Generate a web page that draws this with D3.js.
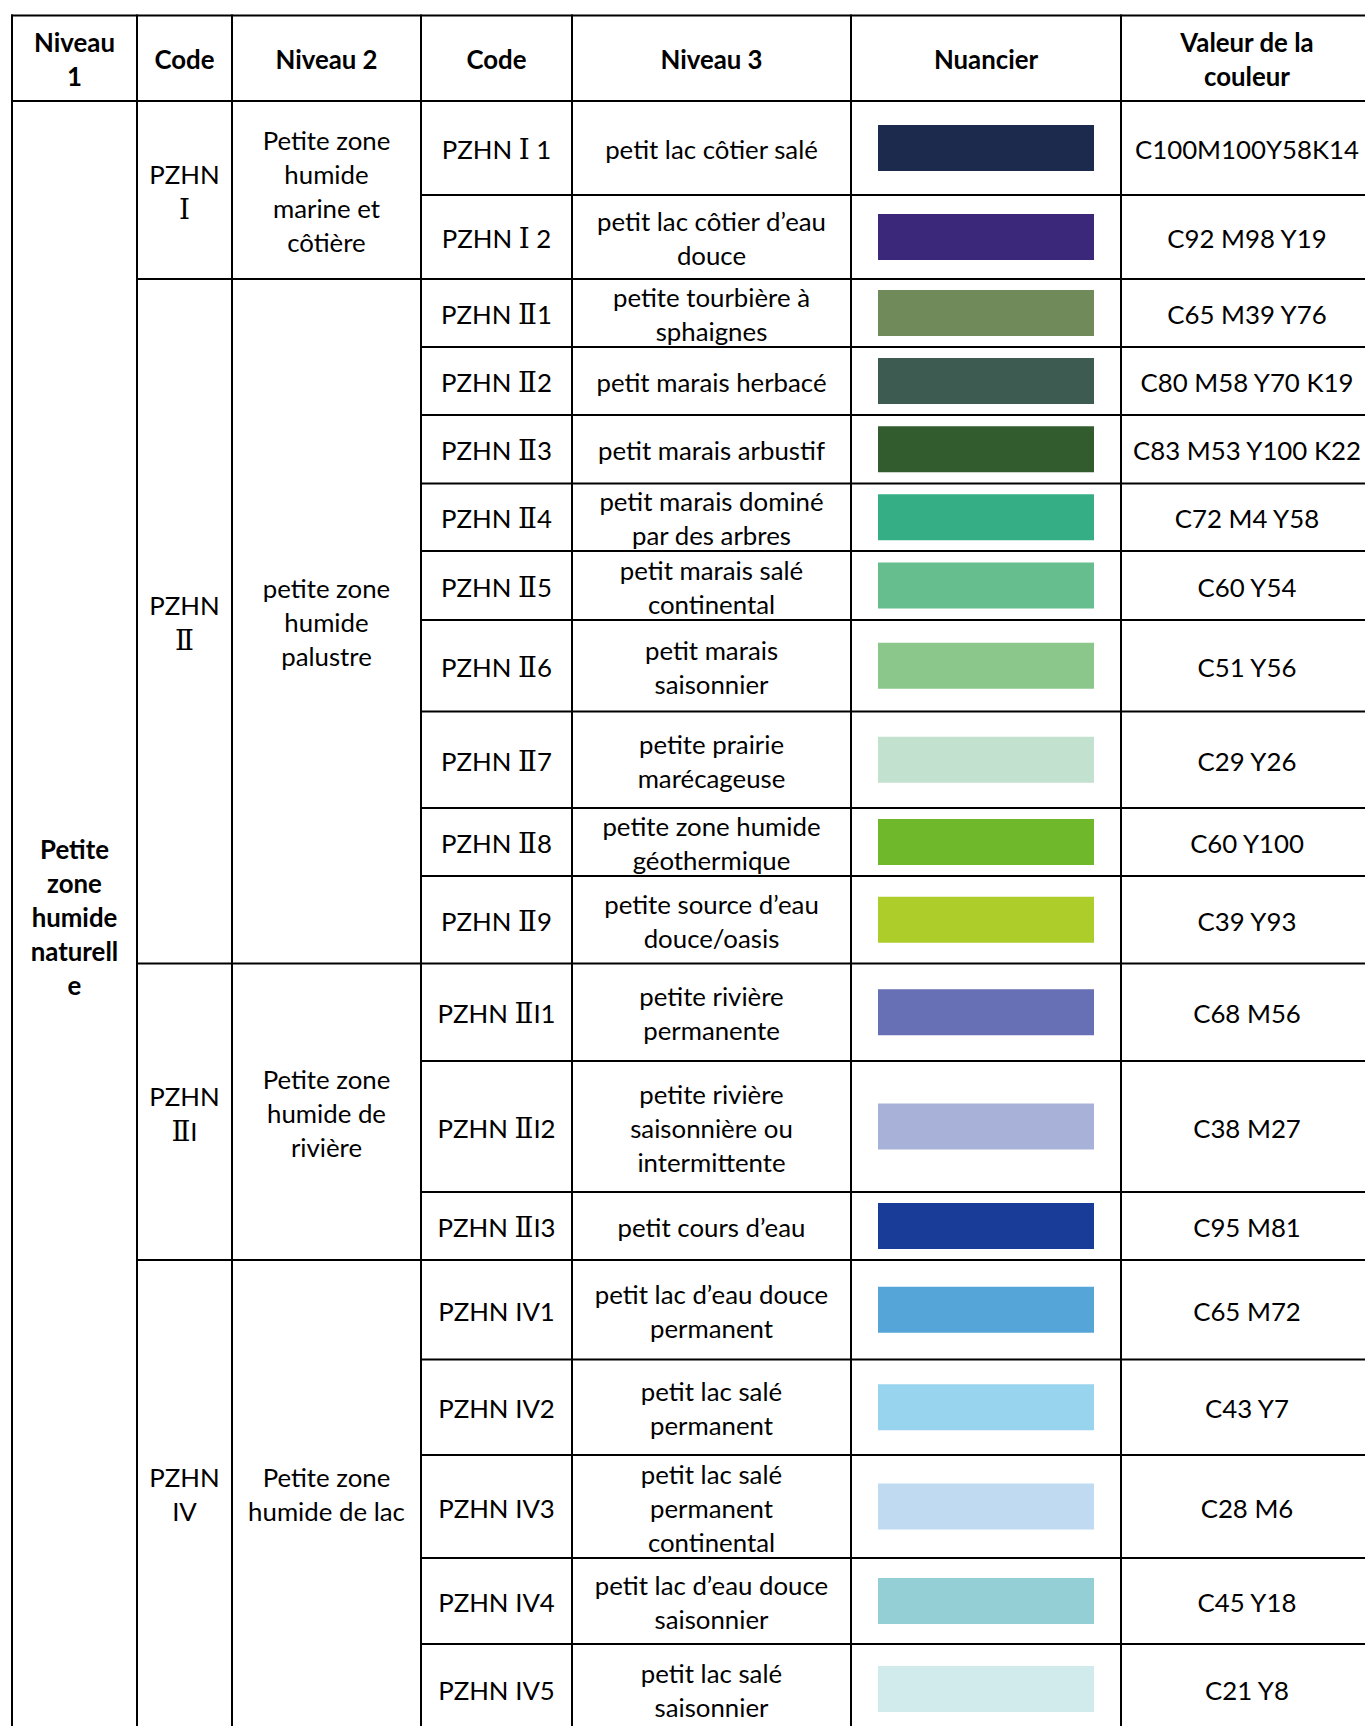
<!DOCTYPE html>
<html>
<head>
<meta charset="utf-8">
<script src="https://cdn.jsdelivr.net/npm/d3@7"></script>
<style>
  body { margin: 0; background: #fff; }
  text { font-family: Lato, "DejaVu Sans", sans-serif; fill: #000; }
</style>
</head>
<body>
<script>
// Table content
var headers = ["Niveau\n1", "Code", "Niveau 2", "Code", "Niveau 3", "Nuancier", "Valeur de la\ncouleur"];
var niveau1 = "Petite\nzone\nhumide\nnaturell\ne";

var groupCodes = ["PZHN\nⅠ", "PZHN\nⅡ", "PZHN\nⅡI", "PZHN\nIV"];
var groupNames = [
  "Petite zone\nhumide\nmarine et\ncôtière",
  "petite zone\nhumide\npalustre",
  "Petite zone\nhumide de\nrivière",
  "Petite zone\nhumide de lac"
];
var groupSizes = [2, 9, 3, 5];

var codes = [
  "PZHN Ⅰ 1", "PZHN Ⅰ 2",
  "PZHN Ⅱ1", "PZHN Ⅱ2", "PZHN Ⅱ3", "PZHN Ⅱ4", "PZHN Ⅱ5", "PZHN Ⅱ6", "PZHN Ⅱ7", "PZHN Ⅱ8", "PZHN Ⅱ9",
  "PZHN ⅡI1", "PZHN ⅡI2", "PZHN ⅡI3",
  "PZHN IV1", "PZHN IV2", "PZHN IV3", "PZHN IV4", "PZHN IV5"
];
var names = [
  "petit lac côtier salé",
  "petit lac côtier d’eau\ndouce",
  "petite tourbière à\nsphaignes",
  "petit marais herbacé",
  "petit marais arbustif",
  "petit marais dominé\npar des arbres",
  "petit marais salé\ncontinental",
  "petit marais\nsaisonnier",
  "petite prairie\nmarécageuse",
  "petite zone humide\ngéothermique",
  "petite source d’eau\ndouce/oasis",
  "petite rivière\npermanente",
  "petite rivière\nsaisonnière ou\nintermittente",
  "petit cours d’eau",
  "petit lac d’eau douce\npermanent",
  "petit lac salé\npermanent",
  "petit lac salé\npermanent\ncontinental",
  "petit lac d’eau douce\nsaisonnier",
  "petit lac salé\nsaisonnier"
];
var swatchColors = [
  "#1c2a4d", "#3b287a",
  "#718a5a", "#3e5b51", "#335c2e", "#35ae86", "#66bd8d", "#8bc78b", "#c3e1cf", "#6fb82c", "#adcd2a",
  "#6770b5", "#a8b1d8", "#193c98",
  "#56a5d8", "#98d4ed", "#c0dbf1", "#94cfd6", "#d1eaeb"
];
var colorValues = [
  "C100M100Y58K14", "C92 M98 Y19",
  "C65 M39 Y76", "C80 M58 Y70 K19", "C83 M53 Y100 K22", "C72 M4 Y58", "C60 Y54", "C51 Y56", "C29 Y26", "C60 Y100", "C39 Y93",
  "C68 M56", "C38 M27", "C95 M81",
  "C65 M72", "C43 Y7", "C28 M6", "C45 Y18", "C21 Y8"
];

// Layout
var svgWidth = 1365;
var svgHeight = 1726;
var colEdges = [12, 137, 232, 421, 572, 851, 1121, 1373];
var tableTop = 15.5;
var headerHeight = 85.5;
var rowHeights = [94, 84, 68, 68, 68.5, 67.5, 69, 91.5, 96.5, 68, 87.5, 97.5, 131, 68, 99.5, 95.5, 103, 86, 90];
var fontSize = 25.8;
var lineHeight = 34;
var textShift = 2;   // Calibri-like baseline sits a little lower
var swatchW = 216, swatchH = 46;

var bodyTop = tableTop + headerHeight;
var rowEdges = [bodyTop].concat(Array.from(d3.cumsum(rowHeights), function(d) { return bodyTop + d; }));
var tableBottom = rowEdges[rowEdges.length - 1];
var visibleBottom = Math.min(tableBottom, svgHeight);

function colCenter(i) { return (colEdges[i] + colEdges[i + 1]) / 2; }
function rowCenter(i) { return (rowEdges[i] + rowEdges[i + 1]) / 2; }

var svg = d3.select("body").append("svg")
  .attr("width", svgWidth)
  .attr("height", svgHeight);

var cellText = svg.append("g");
var marks = svg.append("g");
var grid = svg.append("g").attr("stroke", "#000").attr("stroke-width", 2);

// write a multi-line label centred on (cx, cy)
function label(str, cx, cy, bold) {
  var lines = str.split("\n");
  var t = cellText.append("text")
    .attr("text-anchor", "middle")
    .attr("font-size", fontSize)
    .attr("font-weight", bold ? "bold" : "normal");
  lines.forEach(function(line, i) {
    var y = cy + textShift + (i - (lines.length - 1) / 2) * lineHeight;
    var tl = t.append("tspan").attr("x", cx).attr("y", y).attr("dy", "0.35em");
    // roman numerals Ⅰ Ⅱ come from a serif font like in the original
    var parts = line.split(/([ⅠⅡ])/);
    var first = true;
    parts.forEach(function(p) {
      if (!p) return;
      var s = first ? tl : t.append("tspan");
      first = false;
      s.text(p);
      if (/[ⅠⅡ]/.test(p)) s.attr("font-family", "'DejaVu Serif', serif").attr("font-size", fontSize * 1.08);
    });
  });
}

// header
headers.forEach(function(h, i) {
  label(h, colCenter(i), tableTop + headerHeight / 2, true);
});

// niveau 1 (merged cell, centred in the visible part)
label(niveau1, colCenter(0), (bodyTop + visibleBottom) / 2 + 2, true);

// group cells
var start = 0;
var groupEdges = [bodyTop];
groupSizes.forEach(function(n, g) {
  var y0 = rowEdges[start];
  var y1 = Math.min(rowEdges[start + n], visibleBottom);
  label(groupCodes[g], colCenter(1), (y0 + y1) / 2, false);
  label(groupNames[g], colCenter(2), (y0 + y1) / 2, false);
  start += n;
  groupEdges.push(rowEdges[start]);
});

// rows
codes.forEach(function(c, i) {
  label(c, colCenter(3), rowCenter(i), false);
  label(names[i], colCenter(4), rowCenter(i), false);
  label(colorValues[i], colCenter(6), rowCenter(i), false);
});

marks.selectAll("rect")
  .data(swatchColors)
  .enter()
  .append("rect")
  .attr("x", colCenter(5) - swatchW / 2)
  .attr("y", function(d, i) { return rowCenter(i) - swatchH / 2; })
  .attr("width", swatchW)
  .attr("height", swatchH)
  .attr("fill", function(d) { return d; });

// grid lines
colEdges.forEach(function(x) {
  grid.append("line").attr("x1", x).attr("x2", x).attr("y1", tableTop - 1).attr("y2", tableBottom);
});
[tableTop, bodyTop].forEach(function(y) {
  grid.append("line").attr("x1", colEdges[0] - 1).attr("x2", colEdges[7] + 1).attr("y1", y).attr("y2", y);
});
rowEdges.slice(1).forEach(function(y) {
  var isGroup = groupEdges.indexOf(y) >= 0;
  grid.append("line")
    .attr("x1", isGroup ? colEdges[1] : colEdges[3])
    .attr("x2", colEdges[7] + 1)
    .attr("y1", y).attr("y2", y);
});
</script>
</body>
</html>
